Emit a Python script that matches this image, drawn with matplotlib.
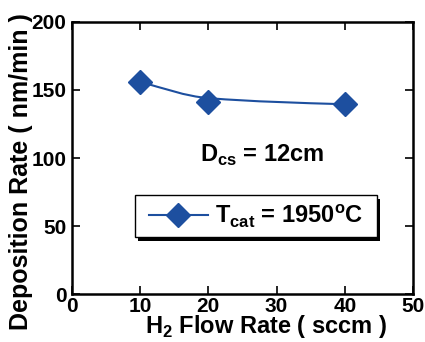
import matplotlib
matplotlib.use("Agg")
import matplotlib.pyplot as plt
from matplotlib.path import Path
from matplotlib.patches import PathPatch, Rectangle
from matplotlib.lines import Line2D

plt.rcParams['font.family'] = 'Liberation Sans'
plt.rcParams['font.weight'] = 'bold'
plt.rcParams['mathtext.fontset'] = 'custom'
plt.rcParams['mathtext.rm'] = 'Liberation Sans:bold'
plt.rcParams['mathtext.bf'] = 'Liberation Sans:bold'

# data
h2_flow = [10, 20, 40]
dep_rate = [156, 141, 139.5]
blue = '#1d4f9f'

fig = plt.figure(figsize=(4.25, 3.42), dpi=100)
ax = fig.add_axes([0.169, 0.140, 0.803, 0.796])

# smooth fit curve drawn as two cubic bezier pieces (passes just above point 2)
x0, x1, x2 = h2_flow
y0, y1, y2 = dep_rate
ym = y1 + 3
verts = [(x0, y0),
         (x0 + 3.33, y0 - 4.6), (x1 - 3.33, ym + 1.33), (x1, ym),
         (x1 + 6.67, ym - 2.67), (x2 - 6.67, y2 + 1.0), (x2, y2)]
codes = [Path.MOVETO] + [Path.CURVE4] * 6
ax.add_patch(PathPatch(Path(verts, codes), facecolor='none', edgecolor=blue, lw=1.5))
ax.plot(h2_flow, dep_rate, linestyle='none', marker='D', markersize=12,
        color=blue, markeredgecolor=blue)

ax.set_xlim(0, 50)
ax.set_ylim(0, 200)
ax.set_xticks([0, 10, 20, 30, 40, 50])
ax.set_yticks([0, 50, 100, 150, 200])
ax.tick_params(direction='in', length=6, width=1.2, top=True, right=True,
               labelsize=15)
ax.tick_params(axis='y', pad=4)
ax.tick_params(axis='x', pad=2)
for s in ax.spines.values():
    s.set_linewidth(1.8)

ax.set_xlabel(r'H$_{2}$ Flow Rate ( sccm )', fontsize=17, fontweight='bold')
ax.xaxis.set_label_coords(0.569, -0.069)
ax.set_ylabel('Deposition Rate ( nm/min )', fontsize=18, fontweight='bold')
ax.yaxis.set_label_coords(-0.115, 0.452)

ax.text(27.9, 102, r'D$_{\rm cs}$ = 12cm', fontsize=17, ha='center', va='center')

# legend box with shadow
bx, by, bw, bh = 0.185, 0.210, 0.709, 0.154
ax.add_patch(Rectangle((bx + 0.010, by - 0.014), bw, bh, transform=ax.transAxes,
                       facecolor='black', edgecolor='none', zorder=3.8))
ax.add_patch(Rectangle((bx, by), bw, bh, transform=ax.transAxes,
                       facecolor='white', edgecolor='black', lw=1.0, zorder=3.9))
handle = Line2D([], [], color=blue, lw=1.5, marker='D', markersize=12)
leg = ax.legend([handle], [r'T$_{\rm cat}$ = 1950$^{\rm o}$C'], loc='center',
                bbox_to_anchor=(0.54, 0.287), fontsize=17, frameon=False,
                handlelength=2.5, borderpad=0.3, handletextpad=0.3)
leg.set_zorder(5)

fig.savefig('out.png', dpi=100)
